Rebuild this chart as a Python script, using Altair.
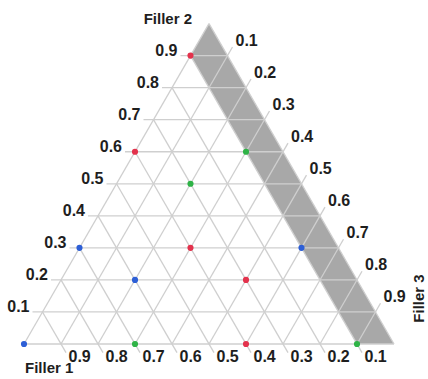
import math
import altair as alt
import pandas as pd

# Ternary composition diagram: Filler 1 / Filler 2 / Filler 3
H = math.sqrt(3) / 2          # triangle height for unit side
PX = 1 / 370                  # one pixel in data units
EXT = 10 * PX                 # tick extension beyond the edges

ticks = [0.1, 0.2, 0.3, 0.4, 0.5, 0.6, 0.7, 0.8, 0.9]
tick_labels = ["0.1", "0.2", "0.3", "0.4", "0.5", "0.6", "0.7", "0.8", "0.9"]

# Excluded strip: Filler 1 below this fraction
strip_f1 = 0.1

# Sample compositions (Filler 1, Filler 2, Filler 3) per group
red_f1 = [0.1, 0.4, 0.4, 0.3, 0.4]
red_f2 = [0.9, 0.6, 0.3, 0.2, 0.0]
red_f3 = [0.0, 0.0, 0.3, 0.5, 0.6]

green_f1 = [0.1, 0.3, 0.7, 0.1]
green_f2 = [0.6, 0.5, 0.0, 0.0]
green_f3 = [0.3, 0.2, 0.3, 0.9]

blue_f1 = [0.7, 0.6, 0.1, 1.0]
blue_f2 = [0.3, 0.2, 0.3, 0.0]
blue_f3 = [0.0, 0.2, 0.6, 0.0]

group_colors = {"red": "#e3324c", "green": "#2fb347", "blue": "#2d5fd6"}


def to_xy(f2, f3):
    return f3 + f2 / 2, f2 * H


# ---- grid lines and edges
seg = []
for v in ticks:
    # Filler 2 = v : horizontal, tick to the left
    seg.append(dict(x=v / 2 - EXT, y=v * H, x2=1 - v / 2, y2=v * H))
    # Filler 1 = v : parallel to right edge, tick below the base
    seg.append(dict(x=(1 - v) + EXT * 0.5, y=-EXT * H,
                    x2=(1 - v) / 2, y2=(1 - v) * H))
    # Filler 3 = v : parallel to left edge, tick beyond right edge
    seg.append(dict(x=v, y=0, x2=(1 + v) / 2 + EXT * 0.5, y2=(1 - v) * H + EXT * H))
seg.append(dict(x=0, y=0, x2=1, y2=0))
seg.append(dict(x=0, y=0, x2=0.5, y2=H))
seg.append(dict(x=1, y=0, x2=0.5, y2=H))
grid_df = pd.DataFrame(seg)

# ---- shaded strip (Filler 1 < strip_f1)
f2_top = 1 - strip_f1
band_df = pd.DataFrame({
    "y": [0, f2_top * H, H],
    "x": [1 - strip_f1, f2_top / 2, 0.5],
    "x2": [1, 1 - f2_top / 2, 0.5],
})

# ---- points
rows = []
for name, a, b, c in [("red", red_f1, red_f2, red_f3),
                      ("green", green_f1, green_f2, green_f3),
                      ("blue", blue_f1, blue_f2, blue_f3)]:
    for f1, f2, f3 in zip(a, b, c):
        x, y = to_xy(f2, f3)
        rows.append(dict(group=name, f1=f1, f2=f2, f3=f3, x=x, y=y))
pts_df = pd.DataFrame(rows)

# ---- tick label anchors
lab_f2 = pd.DataFrame({"x": [v / 2 for v in ticks], "y": [v * H for v in ticks], "t": tick_labels})
lab_f1 = pd.DataFrame({"x": [1 - v for v in ticks], "y": [0.0] * 9, "t": tick_labels})
lab_f3 = pd.DataFrame({"x": [(1 + v) / 2 for v in ticks], "y": [(1 - v) * H for v in ticks], "t": tick_labels})

xs = alt.Scale(domain=[-24 * PX, 404 * PX], nice=False, zero=False)
ys = alt.Scale(domain=[-35 * PX, 344 * PX], nice=False, zero=False)
X = lambda f: alt.X(f, type="quantitative", scale=xs, axis=None)
Y = lambda f: alt.Y(f, type="quantitative", scale=ys, axis=None)

band = alt.Chart(band_df).mark_area(orient="horizontal", color="#a8a8a8", opacity=1).encode(
    y=Y("y"), x=X("x"), x2="x2"
)

grid = alt.Chart(grid_df).mark_rule(color="#cfcfcf", strokeWidth=1.3).encode(
    x=X("x"), y=Y("y"), x2="x2", y2="y2"
)

points = alt.Chart(pts_df).mark_circle(size=38, opacity=1).encode(
    x=X("x"), y=Y("y"),
    color=alt.Color("group:N", scale=alt.Scale(domain=list(group_colors),
                                              range=list(group_colors.values())), legend=None),
)

FONT = "Liberation Sans"
NUM = dict(font=FONT, fontSize=16, fontWeight="bold", color="#1e1e1e")
TTL = dict(font=FONT, fontSize=15, fontWeight="bold", color="#1e1e1e")

t_f2 = alt.Chart(lab_f2).mark_text(align="right", baseline="alphabetic", dx=-13, dy=0, **NUM).encode(
    x=X("x"), y=Y("y"), text="t:N")
t_f1 = alt.Chart(lab_f1).mark_text(align="left", baseline="alphabetic", dx=7.5, dy=18, **NUM).encode(
    x=X("x"), y=Y("y"), text="t:N")
t_f3 = alt.Chart(lab_f3).mark_text(align="left", baseline="alphabetic", dx=8, dy=-10, **NUM).encode(
    x=X("x"), y=Y("y"), text="t:N")

titles_df = pd.DataFrame({
    "x": [1 * PX, 0.5 - 17 * PX],
    "y": [-29 * PX, H + 0 * PX],
    "t": ["Filler 1", "Filler 2"],
    "a": ["left", "right"],
})
t_title1 = alt.Chart(titles_df.iloc[[0]]).mark_text(align="left", baseline="alphabetic", **TTL).encode(
    x=X("x"), y=Y("y"), text="t:N")
t_title2 = alt.Chart(titles_df.iloc[[1]]).mark_text(align="right", baseline="alphabetic", **TTL).encode(
    x=X("x"), y=Y("y"), text="t:N")
t_title3 = alt.Chart(pd.DataFrame({"x": [1 + 29.5 * PX], "y": [45.5 * PX], "t": ["Filler 3"]})).mark_text(
    align="center", baseline="alphabetic", angle=270, **TTL).encode(x=X("x"), y=Y("y"), text="t:N")

chart = alt.layer(band, grid, points, t_f2, t_f1, t_f3, t_title1, t_title2, t_title3).properties(
    width=428, height=379, padding=0, autosize=alt.AutoSizeParams(type="none"), background="white"
).configure_view(stroke=None)

chart.save("out.html", embed_options={"renderer": "svg", "actions": False})
